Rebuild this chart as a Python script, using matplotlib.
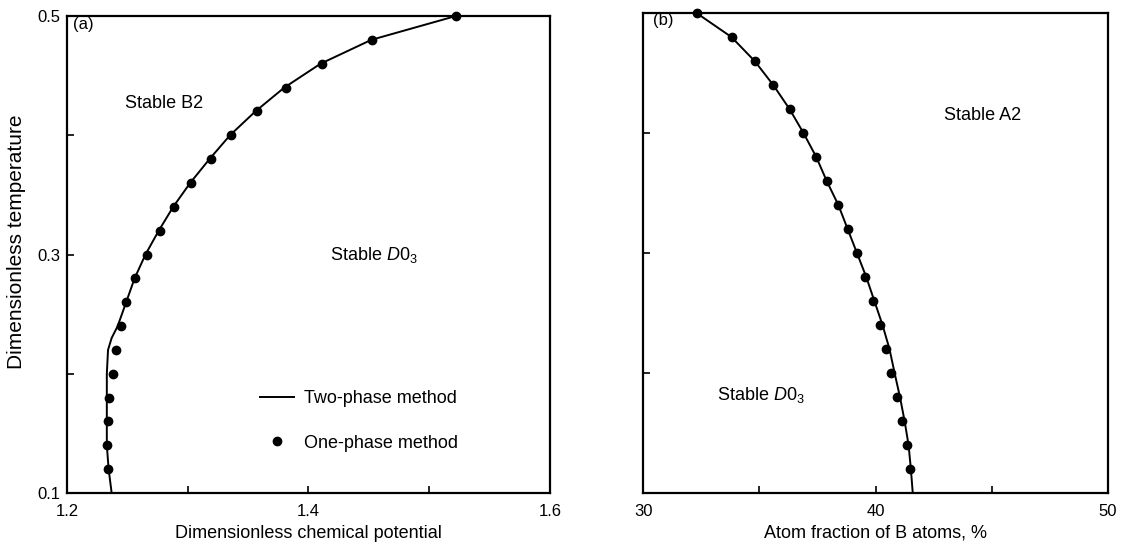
import matplotlib
matplotlib.use("Agg")
import matplotlib.pyplot as plt

plt.rcParams['font.family'] = ['Liberation Sans', 'DejaVu Sans']
plt.rcParams['mathtext.fontset'] = 'custom'
plt.rcParams['mathtext.rm'] = 'Liberation Sans'
plt.rcParams['mathtext.it'] = 'Liberation Sans:italic'

# (a) temperature vs chemical potential
temp_line_a = [0.10, 0.12, 0.14, 0.16, 0.18, 0.20, 0.22, 0.23, 0.24, 0.26, 0.28, 0.30,
               0.32, 0.34, 0.36, 0.38, 0.40, 0.42, 0.44, 0.46, 0.48, 0.50]
mu_line_a = [1.237, 1.2345, 1.233, 1.233, 1.233, 1.233, 1.234, 1.237, 1.242, 1.249, 1.256, 1.265,
             1.276, 1.288, 1.302, 1.318, 1.335, 1.356, 1.380, 1.410, 1.452, 1.522]
temp_pts_a = [0.12, 0.14, 0.16, 0.18, 0.20, 0.22, 0.24, 0.26, 0.28, 0.30,
              0.32, 0.34, 0.36, 0.38, 0.40, 0.42, 0.44, 0.46, 0.48, 0.50]
mu_pts_a = [1.234, 1.233, 1.234, 1.235, 1.238, 1.2405, 1.245, 1.249, 1.256, 1.266,
            1.277, 1.289, 1.303, 1.319, 1.336, 1.357, 1.381, 1.411, 1.453, 1.522]

# (b) temperature vs atom fraction
temp_line_b = [0.10, 0.12, 0.14, 0.16, 0.18, 0.20, 0.22, 0.24, 0.26, 0.28, 0.30,
               0.32, 0.34, 0.36, 0.38, 0.40, 0.42, 0.44, 0.46, 0.48, 0.50]
frac_line_b = [41.6, 41.52, 41.42, 41.25, 41.05, 40.82, 40.6, 40.3, 39.95, 39.6, 39.2,
               38.8, 38.4, 37.9, 37.45, 36.9, 36.3, 35.6, 34.8, 33.8, 32.3]
temp_pts_b = [0.12, 0.14, 0.16, 0.18, 0.20, 0.22, 0.24, 0.26, 0.28, 0.30,
              0.32, 0.34, 0.36, 0.38, 0.40, 0.42, 0.44, 0.46, 0.48, 0.50]
frac_pts_b = [41.5, 41.35, 41.14, 40.92, 40.67, 40.45, 40.2, 39.9, 39.55, 39.2,
              38.8, 38.4, 37.9, 37.44, 36.9, 36.3, 35.6, 34.82, 33.83, 32.32]

fig = plt.figure(figsize=(11.41, 5.47), dpi=100)
axa = fig.add_axes([0.0587, 0.0987, 0.4233, 0.872])
axb = fig.add_axes([0.5636, 0.0987, 0.4075, 0.8775])

fs = 13
for ax in (axa, axb):
    for s in ax.spines.values():
        s.set_linewidth(1.6)
    ax.tick_params(direction='in', length=5, width=1.2, labelsize=12, pad=5)
    ax.tick_params(axis='x', pad=8)
    ax.set_ylim(0.1, 0.5)
    ax.set_yticks([0.1, 0.2, 0.3, 0.4, 0.5])

axa.plot(mu_line_a, temp_line_a, color='black', lw=1.4, label='Two-phase method')
axa.plot(mu_pts_a, temp_pts_a, 'o', color='black', ms=6, clip_on=False, label='One-phase method')
axa.set_xlim(1.2, 1.6)
axa.set_xticks([1.2, 1.3, 1.4, 1.5, 1.6])
axa.set_xticklabels(['1.2', '', '1.4', '', '1.6'])
axa.set_yticklabels(['0.1', '', '0.3', '', '0.5'])
axa.set_xlabel('Dimensionless chemical potential', fontsize=fs, labelpad=4)
axa.set_ylabel('Dimensionless temperature', fontsize=15)
axa.yaxis.set_label_coords(-0.084, 0.526)
axa.text(1.205, 0.4925, '(a)', fontsize=12, va='center')
axa.text(1.248, 0.427, 'Stable B2', fontsize=fs, va='center')
axa.text(1.418, 0.2997, 'Stable $D0_3$', fontsize=fs, va='center')
axa.legend(loc='upper left', bbox_to_anchor=(0.3996, 0.215), frameon=False, fontsize=fs,
           borderpad=0, borderaxespad=0, handlelength=1.9, labelspacing=1.5,
           handletextpad=0.55)

axb.plot(frac_line_b, temp_line_b, color='black', lw=1.4)
axb.plot(frac_pts_b, temp_pts_b, 'o', color='black', ms=6, clip_on=False)
axb.set_xlim(30, 50)
axb.set_xticks([30, 35, 40, 45, 50])
axb.set_xticklabels(['30', '', '40', '', '50'])
axb.set_yticklabels([])
axb.set_xlabel('Atom fraction of B atoms, %', fontsize=fs, labelpad=4)
axb.text(30.43, 0.494, '(b)', fontsize=12, va='center')
axb.text(42.95, 0.415, 'Stable A2', fontsize=fs, va='center')
axb.text(33.18, 0.182, 'Stable $D0_3$', fontsize=fs, va='center')

fig.savefig('out.png', dpi=100)
